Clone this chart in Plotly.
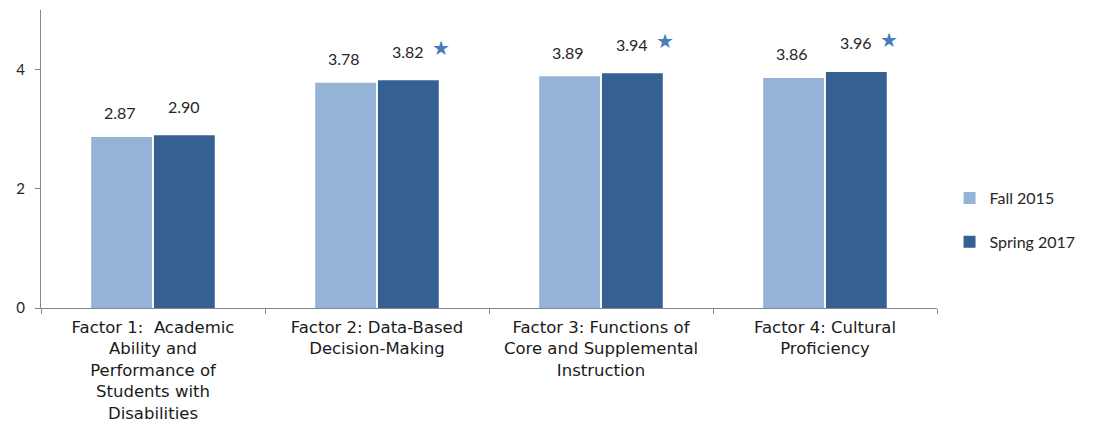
import plotly.graph_objects as go

categories = [
    "Factor 1:  Academic<br>Ability and<br>Performance of<br>Students with<br>Disabilities",
    "Factor 2: Data-Based<br>Decision-Making",
    "Factor 3: Functions of<br>Core and Supplemental<br>Instruction",
    "Factor 4: Cultural<br>Proficiency",
]
fall_2015 = [2.87, 3.78, 3.89, 3.86]
spring_2017 = [2.90, 3.82, 3.94, 3.96]
significant = [False, True, True, True]
series_names = ["Fall 2015", "Spring 2017"]
y_ticks = [0, 2, 4]

light = "#95B3D7"
dark = "#366092"
star_color = "#4A7EBB"
num_font = "Lato"

fig = go.Figure()
fig.add_trace(go.Bar(x=categories, y=fall_2015, name=series_names[0],
                     marker=dict(color=light, line=dict(width=0)), legendgroup="a"))
fig.add_trace(go.Bar(x=categories, y=spring_2017, name=series_names[1],
                     marker=dict(color=dark, line=dict(width=0)), legendgroup="b"))

annotations = []
for i, c in enumerate(categories):
    annotations.append(dict(x=c, y=fall_2015[i], xref="x", yref="y", text=f"{fall_2015[i]:.2f}",
                            showarrow=False, xshift=-33, yshift=24, yanchor="middle",
                            font=dict(family=num_font, size=16, color="#262626")))
    annotations.append(dict(x=c, y=spring_2017[i], xref="x", yref="y", text=f"{spring_2017[i]:.2f}",
                            showarrow=False, xshift=31, yshift=29, yanchor="middle",
                            font=dict(family=num_font, size=16, color="#262626")))
    if significant[i]:
        annotations.append(dict(x=c, y=spring_2017[i], xref="x", yref="y", text="★",
                                showarrow=False, xshift=64, yshift=32, yanchor="middle",
                                font=dict(family="DejaVu Sans", size=20, color=star_color)))

fig.update_layout(
    width=1098, height=423,
    margin=dict(l=41, r=161, t=10, b=115, autoexpand=False),
    paper_bgcolor="white", plot_bgcolor="white",
    barmode="group", bargap=0.44, bargroupgap=0.03,
    showlegend=True,
    legend=dict(x=1.014, y=0.295, xanchor="left", yanchor="middle",
                font=dict(family=num_font, size=16, color="#262626"),
                tracegroupgap=20, traceorder="grouped"),
    annotations=annotations,
    xaxis=dict(showline=True, linecolor="#868686", linewidth=1,
               ticks="outside", ticklen=5, tickcolor="#868686", tickson="boundaries",
               tickfont=dict(family="DejaVu Sans", size=16.5, color="#1a1a1a"),
               ticklabelstandoff=4, automargin=False,
               showgrid=False, fixedrange=True),
    yaxis=dict(range=[0, 5], tickvals=y_ticks, showline=True, linecolor="#868686", linewidth=1,
               ticks="outside", ticklen=5, tickcolor="#868686",
               tickfont=dict(family=num_font, size=15, color="#262626"),
               ticklabelstandoff=7, automargin=False,
               showgrid=False, zeroline=False, fixedrange=True),
)

fig.write_html("out.html")
